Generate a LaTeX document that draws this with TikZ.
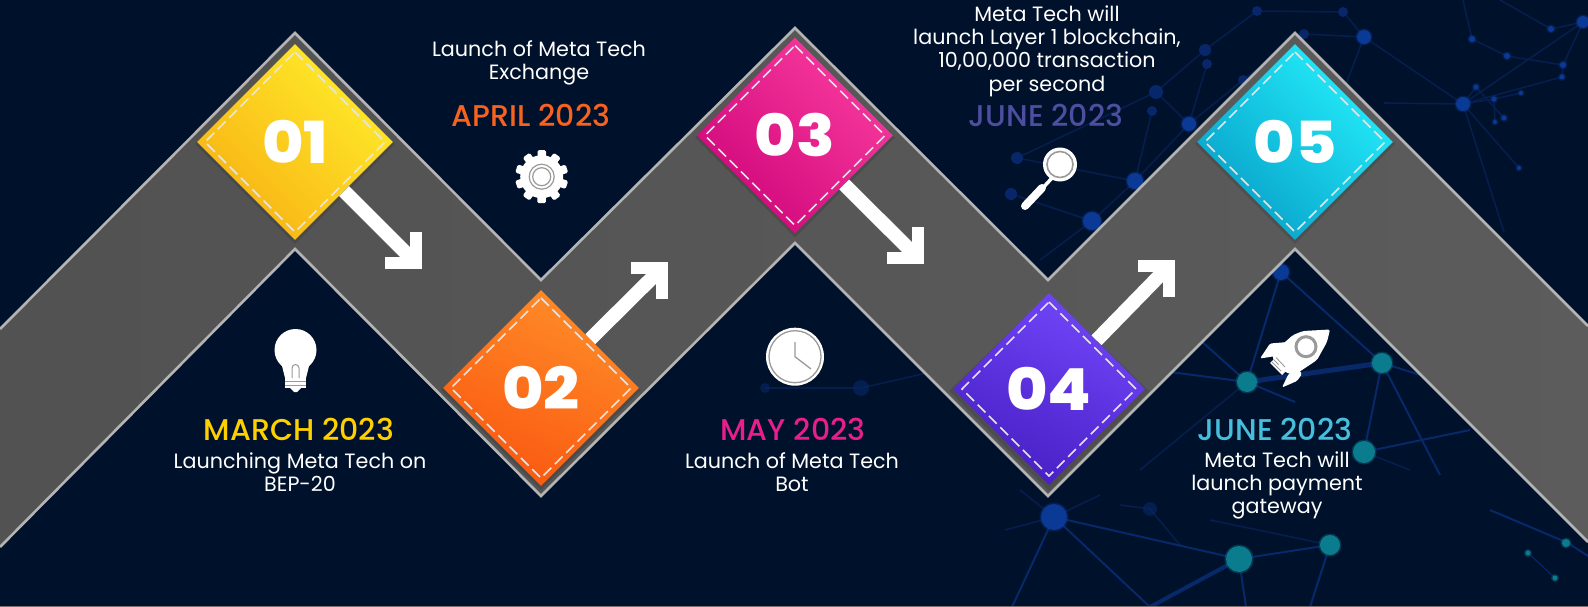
\documentclass[tikz,border=0pt]{standalone}
\usepackage{fontspec}
\usetikzlibrary{shapes.geometric,calc}
\setmainfont{Poppins}
\newfontfamily\datefont{Poppins Medium}
\newfontfamily\numfont[FakeStretch=1.09]{Poppins ExtraBold}
\definecolor{bgnavy}{HTML}{00112B}
\definecolor{bandedge}{HTML}{B4B4B4}
\definecolor{netblue}{HTML}{07296A}
\definecolor{netdim}{HTML}{051E4E}
\definecolor{nodeblue}{HTML}{0A3A96}
\definecolor{nodedim}{HTML}{08276A}
\definecolor{nodeteal}{HTML}{0A7C8E}
\definecolor{iconline}{HTML}{9A9A9A}
\tikzset{
  x=1pt,y=-1pt,
  stepdiamond/.style={diamond,aspect=1,inner sep=0pt,minimum width=196pt,minimum height=196pt,
    text=white,font=\numfont\fontsize{58}{58}\selectfont},
  stitch/.style={draw=white!90!black,line width=1.5pt,dash pattern=on 11pt off 5pt},
  flow/.style={draw=white,line width=14pt},
  barbhead/.style={draw=white,line width=12pt,miter limit=10,line join=miter,line cap=butt},
  datetext/.style={font=\datefont\fontsize{30}{32}\selectfont},
  bodytext/.style={text=white,align=center,font=\fontsize{20.7}{23.3}\selectfont},
  netline/.style={netblue,line width=2pt},
  netfaint/.style={netdim,line width=1.6pt},
}
\begin{document}
\begin{tikzpicture}
\useasboundingbox (0,0) rectangle (1588,607);
\fill[bgnavy] (0,0) rectangle (1588,607);
% network background
\foreach \a/\b/\c/\d in {1463/104/1364/37,1463/104/1583/22,1463/104/1494/99,1463/104/1476/87,1463/104/1504/232,1463/104/1384/103,
 1364/37/1343/12,1364/37/1304/34,1364/37/1340/100,1257/11/1343/12,1583/22/1551/29,1583/22/1563/65,1472/39/1507/56,1507/56/1563/65,1563/65/1562/77,
 1551/29/1500/0,1472/39/1463/0,1562/77/1463/104,1476/87/1504/118,1494/99/1521/93,1494/99/1495/122,1463/104/1519/168,
 1092/221/1135/181,1135/181/1189/124,1189/124/1243/80,1011/194/1092/221,1017/158/1135/181,1156/92/1205/50,1205/50/1257/11,1156/92/1189/124,1017/158/1156/92,1152/111/1135/181,1207/64/1189/124,1092/221/1040/260,1243/80/1304/34,
 1247/382/1140/470,1364/452/1410/470,1054/517/1020/490,1054/517/1100/495,1054/517/1005/530,861/388/765/388,861/388/940/370,1150/509/1180/545,1150/509/1120/505,1330/545/1210/520}
 {\draw[netfaint] (\a,\b) -- (\c,\d);}
\foreach \a/\b/\c/\d in {1281/272/1247/382,1281/272/1382/363,1247/382/1200/340,1247/382/1170/372,1247/382/1295/402,1382/363/1364/452,1382/363/1440/475,1364/452/1470/430,1382/363/1430/378,
 1054/517/1239/559,1054/517/1012/607,1054/517/1150/607,1239/559/1330/545,1239/559/1246/607,1330/545/1310/607,1568/543/1490/510,1568/543/1588/556}
 {\draw[netline] (\a,\b) -- (\c,\d);}
\draw[netblue,line width=4pt] (1239,559) -- (1150,607);
\draw[netblue,line width=5pt] (1247,382) -- (1382,363);
\draw[netblue,line width=1pt] (1528,553) -- (1555,578);
\foreach \a/\b/\r in {861/388/8,765/388/5,1150/509/7}{\fill[nodedim,opacity=.6] (\a,\b) circle[radius=\r];}
\foreach \a/\b/\r in {1205/50/6,1207/64/5,1156/92/7,1152/111/5,1017/158/6,1011/194/6,1243/80/5,1304/34/5,1257/11/5,1343/12/5}
 {\fill[nodedim] (\a,\b) circle[radius=\r];}
\foreach \a/\b/\r in {1463/104/7,1364/37/7,1189/124/7,1135/181/8,1092/221/9,1281/272/8,1054/517/13,1583/22/6,1551/29/3,1472/39/3,1507/56/3,1563/65/3,1562/77/2.5,1476/87/2.5,1494/99/2.5,1521/93/2,1504/118/2.5,1495/122/2,1519/168/2}
 {\fill[nodeblue,opacity=.35] (\a,\b) circle[radius=\r+1.5]; \fill[nodeblue] (\a,\b) circle[radius=\r];}
\foreach \a/\b/\r in {1247/382/10,1382/363/10,1364/452/11,1239/559/13,1330/545/10,1566/543/4,1528/553/2.5,1555/578/2.5}
 {\fill[nodeteal,opacity=.35] (\a,\b) circle[radius=\r+1.5]; \fill[nodeteal] (\a,\b) circle[radius=\r];}
% band
\shade[left color=black!68,middle color=black!60,right color=black!64]
  (0,329) -- (295,33) -- (541,280) -- (795,28) -- (1048,280) -- (1295,33) -- (1588,326)
  -- (1588,542) -- (1295,249) -- (1048,496) -- (795,243) -- (541,496) -- (295,249) -- (0,547) -- cycle;
\draw[bandedge,line width=2.6pt] (0,329) -- (295,33) -- (541,280) -- (795,28) -- (1048,280) -- (1295,33) -- (1588,326);
\draw[bandedge,line width=2.6pt] (0,547) -- (295,249) -- (541,496) -- (795,243) -- (1048,496) -- (1295,249) -- (1588,542);
% diamond shadows
\foreach \x/\y in {295/142,541/388,795/135.5,1049/389,1295/142}
 {\fill[black,opacity=.12] (\x-100,\y+2) -- (\x,\y-95) -- (\x+100,\y+2) -- (\x,\y+102) -- cycle;}
% diamonds
\node[stepdiamond,top color={rgb,255:red,255;green,236;blue,42},bottom color={rgb,255:red,248;green,178;blue,20},shading angle=-45] (d1) at (295,142) {01};
\node[stepdiamond,top color={rgb,255:red,255;green,140;blue,40},bottom color={rgb,255:red,250;green,88;blue,16},shading angle=-25] (d2) at (541,388) {02};
\node[stepdiamond,top color={rgb,255:red,248;green,58;blue,158},bottom color={rgb,255:red,208;green,6;blue,122},shading angle=-45] (d3) at (795,135.5) {03};
\node[stepdiamond,minimum width=192pt,minimum height=192pt,top color={rgb,255:red,112;green,70;blue,250},bottom color={rgb,255:red,72;green,30;blue,196},shading angle=-25] (d4) at (1049,389) {04};
\node[stepdiamond,top color={rgb,255:red,36;green,238;blue,252},bottom color={rgb,255:red,8;green,160;blue,200},shading angle=-45] (d5) at (1295,142) {05};
% stitching
\foreach \x/\y/\r in {295/142/90,541/388/90,795/135.5/90,1049/389/87,1295/142/90}
 {\draw[stitch] (\x,\y-\r) -- (\x+\r,\y) -- (\x,\y+\r) -- (\x-\r,\y) -- cycle;}
% arrows
\coordinate (t1) at (422,269);
\coordinate (t2) at (668,262);
\coordinate (t3) at (924,264);
\coordinate (t4) at (1175,260);
\draw[flow] (d1) -- ($(t1)+(-7,-7)$);
\draw[flow] (d2) -- ($(t2)+(-7,7)$);
\draw[flow] (d3) -- ($(t3)+(-7,-7)$);
\draw[flow] (d4) -- ($(t4)+(-7,7)$);
\draw[barbhead] ($(t1)+(-37,-6)$) -- ($(t1)+(-6,-6)$) -- ($(t1)+(-6,-37)$);
\draw[barbhead] ($(t2)+(-37,6)$) -- ($(t2)+(-6,6)$) -- ($(t2)+(-6,37)$);
\draw[barbhead] ($(t3)+(-37,-6)$) -- ($(t3)+(-6,-6)$) -- ($(t3)+(-6,-37)$);
\draw[barbhead] ($(t4)+(-37,6)$) -- ($(t4)+(-6,6)$) -- ($(t4)+(-6,37)$);
% bulb
\fill[white] (295.5,350) circle[radius=21];
\fill[white] (281,362) -- (310,362) -- (306,378) -- (285,378) -- cycle;
\fill[white] (285,378) rectangle (306,388);
\fill[white] (290,388) -- (301,388) -- (297,392) -- (294,392) -- cycle;
\draw[iconline,line width=1pt] (292,378) -- (292,368) arc[start angle=180,end angle=360,radius=3.5] -- (299,378);
\draw[iconline,line width=1pt] (285,381) -- (306,381) (285,385) -- (306,385);
% gear
\fill[white] (541.7,176.7) circle[radius=21.5];
\foreach \t in {0,36,...,324}{\fill[white,rounded corners=1.5pt,rotate around={\t:(541.7,176.7)}] (537.5,150.2) rectangle (546,162);}
\draw[iconline,line width=1.2pt] (541.7,176.7) circle[radius=12.5] circle[radius=9];
% clock
\fill[white] (795,356.7) circle[radius=29];
\draw[iconline,line width=1.3pt] (795,356.7) circle[radius=26];
\draw[iconline,line width=1.3pt] (795,342) -- (795,356.7) -- (811,369);
% magnifier
\draw[white,line width=3.5pt] (1052,178) -- (1040,191);
\draw[white,line width=8pt,line cap=round] (1042,188) -- (1025,206);
\fill[white] (1060,164.5) circle[radius=17];
\draw[iconline,line width=1.6pt] (1060,164.5) circle[radius=13];
% rocket
\fill[white,rounded corners=1.5pt] (1260,358.5) -- (1270,343.5) -- (1288,342) -- (1276,356) -- cycle;
\fill[white,rounded corners=1.5pt] (1296,366) -- (1302,374) -- (1297,381) -- (1282,387.5) -- (1288,375) -- cycle;
\fill[white,rounded corners=2pt] (1330,329.5) -- (1327,342) -- (1317,360) -- (1296,374) -- (1286,373) -- (1272,358) -- (1276,350) -- (1293,335) -- (1303,331) -- cycle;
\fill[white] (1275,358) -- (1270,363) -- (1282,375) -- (1287,370) -- cycle;
\draw[iconline,line width=.9pt] (1273.5,359.5) -- (1278.5,364.5) (1271.5,361.5) -- (1281,371) (1276,357.5) -- (1285,367);
\draw[iconline,line width=3pt,fill=white] (1306,346.7) circle[radius=10];
% bottom rule
\draw[black!55,line width=1pt] (0,606.5) -- (1588,606.5);
% texts
\node[datetext,text={rgb,255:red,255;green,208;blue,0}] (m1) at (299,429.5) {MARCH 2023};
\node[bodytext] (b1) at (300,472) {Launching Meta Tech on\\BEP-20};
\node[datetext,text={rgb,255:red,247;green,98;blue,30}] (m2) at (531,115) {APRIL 2023};
\node[bodytext] (b2) at (539,63) {Launch of Meta Tech\\Exchange};
\node[datetext,text={rgb,255:red,232;green,30;blue,140}] (m3) at (793,429.5) {MAY 2023};
\node[bodytext] (b3) at (792,472) {Launch of Meta Tech\\Bot};
\node[datetext,text={rgb,255:red,78;green,78;blue,160}] (m4) at (1046,115) {JUNE 2023};
\node[bodytext] (b4) at (1047,51) {Meta Tech will\\launch Layer 1 blockchain,\\10,00,000 transaction\\per second};
\node[datetext,text={rgb,255:red,70;green,190;blue,220}] (m5) at (1275,429.5) {JUNE 2023};
\node[bodytext] (b5) at (1277,485.5) {Meta Tech will\\launch payment\\gateway};
\end{tikzpicture}
\end{document}
